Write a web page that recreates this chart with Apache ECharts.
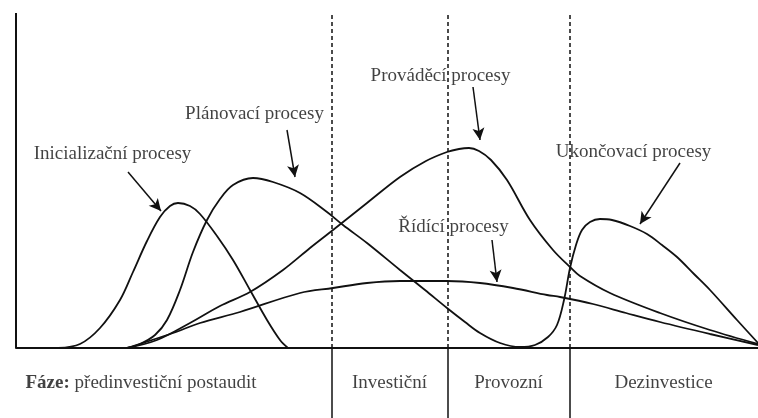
<!DOCTYPE html>
<html lang="cs">
<head>
<meta charset="UTF-8">
<title>Procesy v fázích projektu</title>
<script src="https://cdn.jsdelivr.net/npm/echarts@6/dist/echarts.min.js"></script>
<style>
    html, body { margin: 0; padding: 0; background: #fff; }
    #chart { width: 758px; height: 418px; }
</style>
</head>
<body>
<div id="chart"></div>
<script>
    // hodnoty: [čas, intenzita]
    const inicializacni = [[42,0],[64,4],[84,20],[104,48],[117,76],[131,107],[144,131],[154,142],[162,145],[174,142],[184,134],[201,112],[217,88],[234,58],[251,28],[264,8],[272,0]];
    const planovaci = [[111,0],[124,4],[139,13],[151,28],[164,58],[177,96],[191,128],[204,149],[217,163],[237,170],[257,166],[284,155],[311,136],[327,123],[351,105],[384,78],[409,58],[431,40],[449,26],[464,15],[484,5],[504,1],[519,3],[532,11],[541,23],[548,48],[554,80],[560,103],[566,118],[574,126],[584,129],[596,128],[614,122],[631,114],[646,103],[661,91],[678,74],[694,58],[721,28],[742,5]];
    const provadeci = [[111,0],[141,8],[174,25],[204,42],[234,56],[267,78],[294,100],[317,118],[351,145],[384,171],[410,187],[431,196],[443,199],[453,200],[463,197],[475,188],[491,168],[514,128],[537,98],[554,81],[564,72],[594,55],[644,35],[694,18],[742,4]];
    const ridici = [[111,0],[157,15],[184,25],[224,36],[284,55],[317,60],[351,65],[384,67],[431,67],[464,65],[497,60],[531,53],[544,51],[577,44],[610,35],[644,26],[694,14],[742,3]];

    // hranice fází na ose x
    const hranice = [316, 432, 554];
    const fazeNazvy = ['předinvestiční postaudit', 'Investiční', 'Provozní', 'Dezinvestice'];

    // popisky křivek a šipky (text, šipka od, šipka k)
    const popisky = [
        {text: 'Inicializační procesy', pos: [97, 193], od: [112, 176], k: [145, 137]},
        {text: 'Plánovací procesy', pos: [239, 233], od: [271, 218], k: [279, 171]},
        {text: 'Prováděcí procesy', pos: [425, 271], od: [457, 261], k: [464, 208]},
        {text: 'Ukončovací procesy', pos: [618, 195], od: [664, 185], k: [624, 124]},
        {text: 'Řídící procesy', pos: [438, 120], od: [476, 108], k: [481, 66]}
    ];

    const XMAX = 742, YMAX = 335, YMIN = -70;
    const barva = '#111';
    const serif = 'Liberation Serif, Times New Roman, serif';

    function krivka(name, data) {
        return {
            name: name,
            type: 'line',
            data: data,
            smooth: 0.35,
            showSymbol: false,
            clip: false,
            lineStyle: {color: barva, width: 1.8}
        };
    }

    // středy fází pro popisky pod osou
    let meze = [0].concat(hranice).concat([XMAX]);
    let fazeData = fazeNazvy.map(function (n, i) {
        if (i === 0) {
            return {value: [10, -36], label: {align: 'left', formatter: '{b|Fáze:} ' + n}};
        }
        return {value: [(meze[i] + meze[i + 1]) / 2, -36], label: {align: 'center', formatter: n}};
    });

    let carySvisle = [];
    hranice.forEach(function (x) {
        carySvisle.push([{coord: [x, 0], lineStyle: {type: [4, 3], width: 1.5}}, {coord: [x, YMAX]}]);
        carySvisle.push([{coord: [x, YMIN], lineStyle: {type: 'solid', width: 1.5}}, {coord: [x, 0]}]);
    });
    // svislá osa
    carySvisle.push([{coord: [0, 0], lineStyle: {type: 'solid', width: 2}}, {coord: [0, YMAX]}]);

    let sipky = popisky.map(function (p) {
        return [{coord: p.od}, {coord: p.k}];
    });

    let myChart = echarts.init(document.getElementById('chart'));
    let option = {
        animation: false,
        backgroundColor: '#fff',
        grid: {left: 16, right: 0, top: 13, bottom: 0},
        xAxis: {
            type: 'value', min: 0, max: XMAX,
            axisLine: {show: true, onZero: true, lineStyle: {color: barva, width: 2}},
            axisTick: {show: false}, axisLabel: {show: false}, splitLine: {show: false}
        },
        yAxis: {
            type: 'value', min: YMIN, max: YMAX,
            axisLine: {show: false}, axisTick: {show: false}, axisLabel: {show: false}, splitLine: {show: false}
        },
        series: [
            krivka('Inicializační procesy', inicializacni),
            krivka('Plánovací procesy', planovaci),
            krivka('Prováděcí procesy', provadeci),
            krivka('Řídící procesy', ridici),
            {
                name: 'fáze',
                type: 'scatter',
                data: fazeData,
                symbolSize: 1,
                itemStyle: {color: 'rgba(0,0,0,0)'},
                silent: true,
                label: {
                    show: true, position: [0, 0], verticalAlign: 'middle',
                    color: barva, fontFamily: serif, fontSize: 19,
                    rich: {b: {fontWeight: 'bold', fontFamily: serif, fontSize: 19, color: barva}}
                },
                markLine: {
                    silent: true,
                    symbol: ['none', 'none'],
                    label: {show: false},
                    lineStyle: {color: barva},
                    data: carySvisle
                }
            },
            {
                name: 'popisky',
                type: 'scatter',
                data: popisky.map(function (p) { return {value: p.pos, name: p.text}; }),
                symbolSize: 1,
                itemStyle: {color: 'rgba(0,0,0,0)'},
                silent: true,
                label: {
                    show: true, position: [0, 0], align: 'center', verticalAlign: 'middle',
                    formatter: '{b}', color: barva, fontFamily: serif, fontSize: 19
                },
                markLine: {
                    silent: true,
                    symbol: ['none', 'arrow'],
                    symbolSize: [9, 12],
                    label: {show: false},
                    lineStyle: {color: barva, type: 'solid', width: 1.5},
                    data: sipky
                }
            }
        ]
    };
    myChart.setOption(option);
</script>
</body>
</html>
